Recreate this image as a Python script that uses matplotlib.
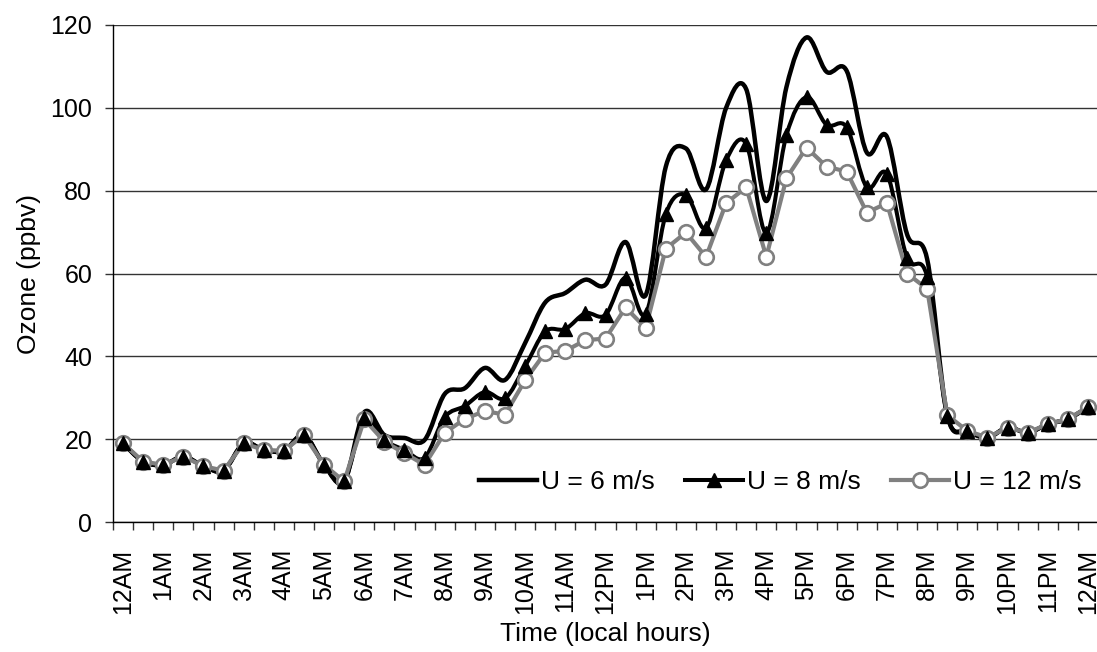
import matplotlib
matplotlib.use("Agg")
import matplotlib.pyplot as plt
from matplotlib.path import Path
from matplotlib.patches import PathPatch
from matplotlib.lines import Line2D

plt.rcParams['font.family'] = ['Liberation Sans', 'DejaVu Sans']

# Half-hourly ozone (ppbv) over one day, three wind speeds
hour_labels = ['12AM', '1AM', '2AM', '3AM', '4AM', '5AM', '6AM', '7AM', '8AM',
               '9AM', '10AM', '11AM', '12PM', '1PM', '2PM', '3PM', '4PM', '5PM',
               '6PM', '7PM', '8PM', '9PM', '10PM', '11PM', '12AM']

ozone_u6 = [19.0, 14.6, 13.8, 15.8, 13.5, 12.4, 19.0, 17.4, 17.2, 21.0, 13.8, 9.8,
            26.5, 21.0, 20.3, 19.8, 30.9, 32.3, 37.2, 34.3, 43.2, 53.0, 55.3, 58.5,
            57.3, 67.6, 54.8, 85.8, 90.2, 80.3, 100.0, 104.5, 77.5, 105.0, 117.0, 108.7,
            108.9, 89.2, 93.0, 69.5, 63.5, 25.8, 22.0, 20.4, 22.8, 21.6, 23.6, 24.9,
            27.7]
ozone_u8 = [19.0, 14.6, 13.8, 15.8, 13.5, 12.4, 19.0, 17.4, 17.2, 21.0, 13.8, 9.8,
            25.0, 19.8, 17.4, 15.5, 25.3, 28.0, 31.4, 29.9, 37.6, 46.0, 46.6, 50.4,
            50.0, 59.0, 50.2, 74.3, 79.0, 71.0, 87.3, 91.3, 69.8, 93.4, 102.6, 95.9,
            95.3, 80.8, 84.0, 63.8, 59.2, 25.6, 22.0, 20.4, 22.8, 21.6, 23.6, 24.9,
            27.7]
ozone_u12 = [19.0, 14.6, 13.8, 15.8, 13.5, 12.4, 19.0, 17.4, 17.2, 21.0, 13.8, 9.8,
             24.8, 19.4, 16.6, 13.8, 21.5, 24.9, 26.8, 25.9, 34.2, 40.9, 41.3, 43.9,
             44.3, 51.8, 46.8, 66.0, 69.9, 64.0, 77.0, 80.8, 64.0, 83.0, 90.4, 85.8,
             84.6, 74.7, 77.0, 60.0, 56.3, 25.8, 22.0, 20.4, 22.8, 21.6, 23.6, 24.9,
             27.7]

series_names = ['U = 6 m/s', 'U = 8 m/s', 'U = 12 m/s']

BLACK = '#000000'
GREY = '#808080'
FS_TICK = 18
FS_LABEL = 19


def smooth_path(xs, ys):
    """Bezier path through the points, with Catmull-Rom style control points."""
    n = len(xs)
    verts = [(xs[0], ys[0])]
    codes = [Path.MOVETO]
    for i in range(n - 1):
        x0, y0 = (xs[i - 1], ys[i - 1]) if i > 0 else (xs[i], ys[i])
        x1, y1 = xs[i], ys[i]
        x2, y2 = xs[i + 1], ys[i + 1]
        x3, y3 = (xs[i + 2], ys[i + 2]) if i + 2 < n else (xs[i + 1], ys[i + 1])
        c1 = (x1 + (x2 - x0) / 6.0, y1 + (y2 - y0) / 6.0)
        c2 = (x2 - (x3 - x1) / 6.0, y2 - (y3 - y1) / 6.0)
        verts += [c1, c2, (x2, y2)]
        codes += [Path.CURVE4] * 3
    return Path(verts, codes)


fig = plt.figure(figsize=(10.97, 6.52), dpi=100)
ax = fig.add_axes([113 / 1097, 1 - 522 / 652, 985 / 1097, 497 / 652])

x = list(range(len(ozone_u6)))

# U = 6 m/s: smoothed black line
ax.add_patch(PathPatch(smooth_path(x, ozone_u6), facecolor='none', edgecolor=BLACK,
                       lw=3.2, capstyle='round', joinstyle='round', zorder=3))
# U = 8 m/s: smoothed black line, triangle markers drawn on top later
ax.add_patch(PathPatch(smooth_path(x, ozone_u8), facecolor='none', edgecolor=BLACK,
                       lw=2.9, capstyle='round', joinstyle='round', zorder=4))
# U = 12 m/s: grey line with open circles
ax.plot(x, ozone_u12, color=GREY, lw=3.0, marker='o', ms=10.5, mfc='white',
        mec=GREY, mew=1.9, solid_joinstyle='round', zorder=5)
ax.plot(x, ozone_u8, ls='none', marker='^', ms=9.8, color=BLACK, zorder=6)

ax.set_xlim(-0.5, len(x) - 0.5)
ax.set_ylim(0, 120)
ax.set_yticks(range(0, 121, 20))
ax.yaxis.grid(True, color='#333333', lw=1.0)
ax.set_axisbelow(True)

ax.set_xticks(range(0, len(x), 2))
ax.set_xticklabels(hour_labels, rotation=90, fontsize=FS_TICK)
ax.set_xticks([i + 0.5 for i in range(-1, len(x))], minor=True)
ax.tick_params(axis='x', which='major', length=0, pad=19)
ax.tick_params(axis='x', which='minor', length=5.5, width=1.0, color='#333333')
ax.tick_params(axis='y', length=6, width=1.0, pad=9, labelsize=FS_TICK, color='#333333')

for side in ('top', 'right'):
    ax.spines[side].set_visible(False)
for side in ('left', 'bottom'):
    ax.spines[side].set_color(BLACK)
    ax.spines[side].set_linewidth(1.0)

ax.set_ylabel('Ozone (ppbv)', fontsize=FS_LABEL, labelpad=7)
ax.set_xlabel('Time (local hours)', fontsize=FS_LABEL, labelpad=6)

handles = [
    Line2D([], [], color=BLACK, lw=3.2),
    Line2D([], [], color=BLACK, lw=2.9, marker='^', ms=9.8),
    Line2D([], [], color=GREY, lw=3.0, marker='o', ms=10.5, mfc='white', mec=GREY, mew=1.9),
]
fig.legend(handles, series_names, loc='center left', ncol=3, frameon=False,
           bbox_to_anchor=(466 / 1097, 1 - 482 / 652), fontsize=FS_LABEL,
           borderpad=0, handlelength=2.2, handletextpad=0.15, columnspacing=1.15)

fig.savefig('out.png', dpi=100)
